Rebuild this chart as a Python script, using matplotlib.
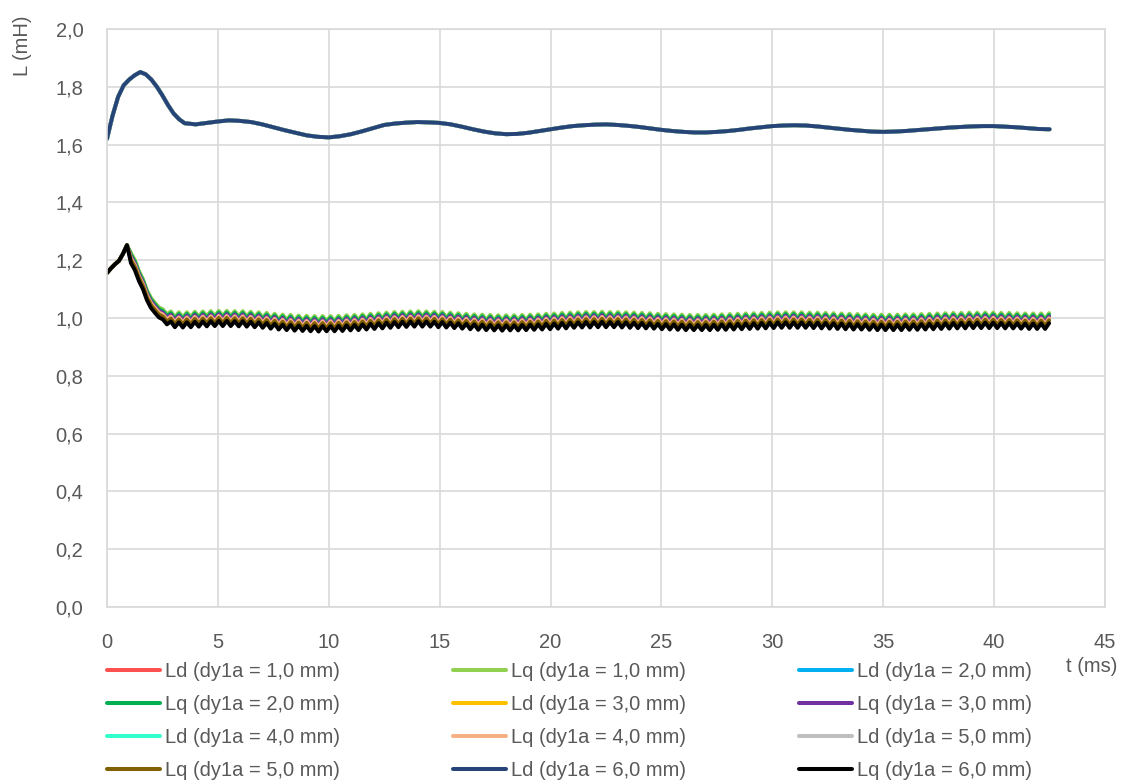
import numpy as np
import matplotlib
matplotlib.use('Agg')
import matplotlib.pyplot as plt
from matplotlib.ticker import FuncFormatter, MultipleLocator
from matplotlib.lines import Line2D

plt.rcParams['font.family'] = ['Liberation Sans', 'DejaVu Sans']

# ---------------- data ----------------
series_labels = ['Ld (dy1a = 1,0 mm)', 'Lq (dy1a = 1,0 mm)', 'Ld (dy1a = 2,0 mm)',
                 'Lq (dy1a = 2,0 mm)', 'Ld (dy1a = 3,0 mm)', 'Lq (dy1a = 3,0 mm)',
                 'Ld (dy1a = 4,0 mm)', 'Lq (dy1a = 4,0 mm)', 'Ld (dy1a = 5,0 mm)',
                 'Lq (dy1a = 5,0 mm)', 'Ld (dy1a = 6,0 mm)', 'Lq (dy1a = 6,0 mm)']
series_colors = ['#FF5050', '#92D050', '#00B0F0', '#00B050', '#FFC000', '#7030A0',
                 '#33FFCC', '#F4B183', '#BFBFBF', '#806000', '#264478', '#000000']

# Ld curves (all six coincide)
t_ld = np.concatenate([np.arange(0, 3.51, 0.25), np.arange(4.0, 42.51, 0.5)])
ld_values = [1.620, 1.700, 1.765, 1.805, 1.825, 1.840, 1.851, 1.843, 1.825, 1.800,
             1.770, 1.737, 1.708, 1.688, 1.674,
             1.670, 1.675, 1.680, 1.684, 1.682, 1.678, 1.670, 1.660, 1.650, 1.641,
             1.632, 1.627, 1.625, 1.629, 1.636, 1.646, 1.657, 1.668, 1.673, 1.676,
             1.678, 1.677, 1.675, 1.670, 1.662, 1.653, 1.645, 1.639, 1.636, 1.637,
             1.641, 1.647, 1.653, 1.659, 1.664, 1.667, 1.669, 1.670, 1.668, 1.665,
             1.661, 1.656, 1.651, 1.647, 1.644, 1.642, 1.642, 1.644, 1.647, 1.651,
             1.656, 1.660, 1.664, 1.666, 1.667, 1.666, 1.663, 1.659, 1.655, 1.651,
             1.648, 1.645, 1.644, 1.645, 1.647, 1.650, 1.653, 1.656, 1.659, 1.661,
             1.663, 1.664, 1.664, 1.662, 1.660, 1.657, 1.654, 1.653]

# Lq (dy1a = 6,0 mm) curve, sampled every 0.18 ms
t_lq = np.arange(0, 42.49, 0.18)
lq6_values = [
    1.156, 1.172, 1.186, 1.198, 1.222, 1.252, 1.190, 1.165, 1.128, 1.100,
    1.062, 1.035, 1.018, 1.002, 0.995, 0.978, 0.988, 0.968, 0.985, 0.967,
    0.985, 0.968, 0.987, 0.970, 0.988, 0.971, 0.989, 0.972, 0.990, 0.972,
    0.990, 0.972, 0.989, 0.971, 0.989, 0.970, 0.987, 0.968, 0.985, 0.966,
    0.983, 0.963, 0.980, 0.960, 0.977, 0.958, 0.976, 0.956, 0.974, 0.955,
    0.973, 0.954, 0.972, 0.953, 0.972, 0.954, 0.972, 0.954, 0.973, 0.955,
    0.975, 0.957, 0.976, 0.958, 0.978, 0.960, 0.980, 0.962, 0.982, 0.964,
    0.984, 0.966, 0.986, 0.968, 0.987, 0.969, 0.988, 0.970, 0.989, 0.970,
    0.988, 0.970, 0.987, 0.968, 0.986, 0.967, 0.984, 0.965, 0.982, 0.963,
    0.980, 0.961, 0.978, 0.959, 0.977, 0.958, 0.976, 0.957, 0.975, 0.956,
    0.975, 0.957, 0.975, 0.957, 0.976, 0.958, 0.977, 0.959, 0.978, 0.960,
    0.980, 0.961, 0.981, 0.963, 0.983, 0.964, 0.984, 0.966, 0.985, 0.967,
    0.986, 0.967, 0.986, 0.968, 0.987, 0.968, 0.986, 0.968, 0.986, 0.967,
    0.985, 0.966, 0.984, 0.965, 0.983, 0.964, 0.982, 0.963, 0.980, 0.961,
    0.979, 0.960, 0.978, 0.959, 0.977, 0.958, 0.976, 0.958, 0.976, 0.958,
    0.976, 0.958, 0.977, 0.959, 0.978, 0.959, 0.979, 0.960, 0.980, 0.961,
    0.981, 0.962, 0.982, 0.963, 0.983, 0.964, 0.984, 0.965, 0.985, 0.966,
    0.985, 0.966, 0.985, 0.966, 0.985, 0.966, 0.984, 0.965, 0.984, 0.964,
    0.983, 0.963, 0.982, 0.962, 0.981, 0.961, 0.980, 0.960, 0.979, 0.960,
    0.978, 0.959, 0.977, 0.958, 0.977, 0.958, 0.977, 0.958, 0.977, 0.958,
    0.978, 0.959, 0.978, 0.959, 0.979, 0.960, 0.980, 0.961, 0.981, 0.962,
    0.982, 0.963, 0.983, 0.964, 0.983, 0.964, 0.984, 0.965, 0.984, 0.965,
    0.984, 0.965, 0.984, 0.965, 0.983, 0.964, 0.983, 0.964, 0.982, 0.963,
    0.981, 0.962, 0.981, 0.962, 0.981, 0.962, 0.982]

# vertical offset of each Lq curve above Lq (6,0 mm) after the initial peak
lq_offsets = [0.035, 0.029, 0.023, 0.017, 0.010, 0.0]
lq_offset_start = 1.0  # ms

# ---------------- figure ----------------
W, H = 1129, 784
FS = 14.5
fig = plt.figure(figsize=(W / 100, H / 100), dpi=100)
ax = fig.add_axes([107 / W, 1 - 607 / H, (1105 - 107) / W, (607 - 29) / H])

lq_base = np.array(lq6_values)
handles = []
for i, (lab, col) in enumerate(zip(series_labels, series_colors)):
    if i % 2 == 0:
        x, y = t_ld, np.array(ld_values)
    else:
        off = lq_offsets[i // 2]
        x = t_lq
        y = lq_base + np.where(t_lq >= lq_offset_start, off, 0.0)
    ax.plot(x, y, color=col, lw=2.8, solid_joinstyle='round',
            solid_capstyle='round', label=lab)
    handles.append(Line2D([], [], color=col, lw=2.9, solid_capstyle='round'))

ax.set_xlim(0, 45)
ax.set_ylim(0, 2.0)
ax.xaxis.set_major_locator(MultipleLocator(5))
ax.yaxis.set_major_locator(MultipleLocator(0.2))
ax.yaxis.set_major_formatter(FuncFormatter(lambda v, p: f"{v:.1f}".replace('.', ',')))
ax.xaxis.set_major_formatter(FuncFormatter(lambda v, p: f"{v:.0f}"))
ax.grid(True, color='#D9D9D9', lw=1.2)
ax.set_axisbelow(True)
for s in ax.spines.values():
    s.set_color('#D9D9D9')
    s.set_linewidth(1.2)
ax.tick_params(length=0, labelsize=FS, colors='#595959', pad=17)
ax.tick_params(axis='x', pad=19)

fig.text(23 / W, 1 - 46 / H, 'L (mH)', rotation=90, ha='center', va='center',
         fontsize=FS, color='#595959')
fig.text(1092 / W, 1 - 667 / H, 't (ms)', ha='center', va='center',
         fontsize=FS, color='#595959')

# legend: row-wise order in 3 columns
order = [0, 3, 6, 9, 1, 4, 7, 10, 2, 5, 8, 11]
leg = fig.legend([handles[k] for k in order], [series_labels[k] for k in order],
                 ncol=3, loc='upper left', bbox_to_anchor=(107 / W, 1 - 662 / H),
                 frameon=False, fontsize=FS, handlelength=2.64, handletextpad=0.25,
                 columnspacing=5.6, labelspacing=0.70, borderpad=0, borderaxespad=0)
for t in leg.get_texts():
    t.set_color('#595959')

fig.savefig('out.png', dpi=100)
